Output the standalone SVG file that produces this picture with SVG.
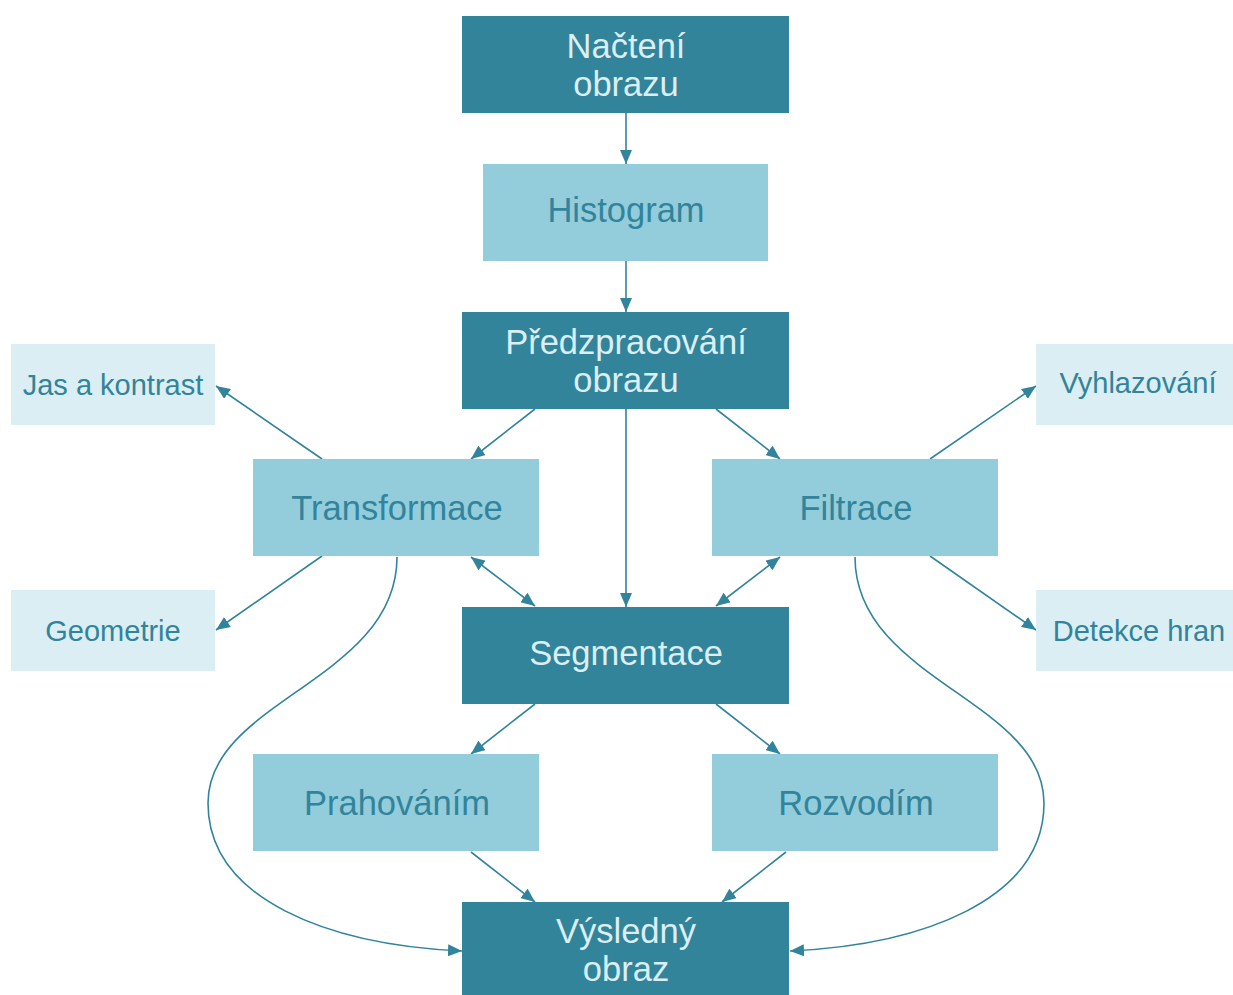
<svg xmlns="http://www.w3.org/2000/svg" width="1233" height="995" viewBox="0 0 1233 995">
<style>
.dark{fill:#32849b}
.mid{fill:#93cddb}
.pale{fill:#daeef3}
text{font-family:"Liberation Sans",Arial,sans-serif;text-anchor:middle}
.tl{fill:#daeef3;font-size:34.5px}
.tm{fill:#31849b;font-size:34.5px}
.ts{fill:#31849b;font-size:29px}
.c{fill:none;stroke:#31849b;stroke-width:1.6}
</style>
<defs>
<marker id="ah" viewBox="0 0 14 12" refX="14" refY="6" markerWidth="14" markerHeight="12" markerUnits="userSpaceOnUse" orient="auto-start-reverse">
<path d="M0,0 L14,6 L0,12 Z" fill="#31849b"/>
</marker>
</defs>
<rect width="1233" height="995" fill="#ffffff"/>
<g id="connectors">
<line class="c" x1="626" y1="113" x2="626" y2="164" marker-end="url(#ah)"/>
<line class="c" x1="626" y1="261" x2="626" y2="312" marker-end="url(#ah)"/>
<line class="c" x1="535" y1="409" x2="471" y2="459" marker-end="url(#ah)"/>
<line class="c" x1="716" y1="409" x2="780" y2="459" marker-end="url(#ah)"/>
<line class="c" x1="626" y1="409" x2="626" y2="607" marker-end="url(#ah)"/>
<line class="c" x1="322" y1="459" x2="216" y2="386" marker-end="url(#ah)"/>
<line class="c" x1="322" y1="556" x2="216" y2="630" marker-end="url(#ah)"/>
<line class="c" x1="471" y1="557" x2="535" y2="606" marker-start="url(#ah)" marker-end="url(#ah)"/>
<line class="c" x1="780" y1="557" x2="716" y2="606" marker-start="url(#ah)" marker-end="url(#ah)"/>
<line class="c" x1="930" y1="459" x2="1036" y2="386" marker-end="url(#ah)"/>
<line class="c" x1="930" y1="556" x2="1036" y2="630" marker-end="url(#ah)"/>
<line class="c" x1="535" y1="704" x2="471" y2="754" marker-end="url(#ah)"/>
<line class="c" x1="716" y1="704" x2="780" y2="754" marker-end="url(#ah)"/>
<line class="c" x1="471" y1="852" x2="535" y2="902" marker-end="url(#ah)"/>
<line class="c" x1="786" y1="852" x2="722" y2="902" marker-end="url(#ah)"/>
<path class="c" d="M397,557 C397,680 208,700 208,803 C208,900 330,945 462,951" marker-end="url(#ah)"/>
<path class="c" d="M855,557 C855,680 1044,700 1044,803 C1044,900 922,945 790,951" marker-end="url(#ah)"/>
</g>
<g id="nacteni"><rect class="dark" x="462" y="16" width="327" height="97"/><text class="tl" x="626" y="58">Načtení</text><text class="tl" x="626" y="96">obrazu</text></g>
<g id="histogram"><rect class="mid" x="483" y="164" width="285" height="97"/><text class="tm" x="626" y="222">Histogram</text></g>
<g id="predzpracovani"><rect class="dark" x="462" y="312" width="327" height="97"/><text class="tl" x="626" y="354">Předzpracování</text><text class="tl" x="626" y="392">obrazu</text></g>
<g id="transformace"><rect class="mid" x="253" y="459" width="286" height="97"/><text class="tm" x="397" y="520">Transformace</text></g>
<g id="filtrace"><rect class="mid" x="712" y="459" width="286" height="97"/><text class="tm" x="856" y="520">Filtrace</text></g>
<g id="jas"><rect class="pale" x="11" y="344" width="204" height="81"/><text class="ts" x="113" y="395">Jas a kontrast</text></g>
<g id="geometrie"><rect class="pale" x="11" y="590" width="204" height="81"/><text class="ts" x="113" y="641">Geometrie</text></g>
<g id="vyhlazovani"><rect class="pale" x="1036" y="344" width="197" height="81"/><text class="ts" x="1138" y="393">Vyhlazování</text></g>
<g id="detekce"><rect class="pale" x="1036" y="590" width="197" height="81"/><text class="ts" x="1139" y="641">Detekce hran</text></g>
<g id="segmentace"><rect class="dark" x="462" y="607" width="327" height="97"/><text class="tl" x="626" y="665">Segmentace</text></g>
<g id="prahovanim"><rect class="mid" x="253" y="754" width="286" height="97"/><text class="tm" x="397" y="815">Prahováním</text></g>
<g id="rozvodim"><rect class="mid" x="712" y="754" width="286" height="97"/><text class="tm" x="856" y="815">Rozvodím</text></g>
<g id="vysledny"><rect class="dark" x="462" y="902" width="327" height="97"/><text class="tl" x="626" y="943">Výsledný</text><text class="tl" x="626" y="981">obraz</text></g>
</svg>
